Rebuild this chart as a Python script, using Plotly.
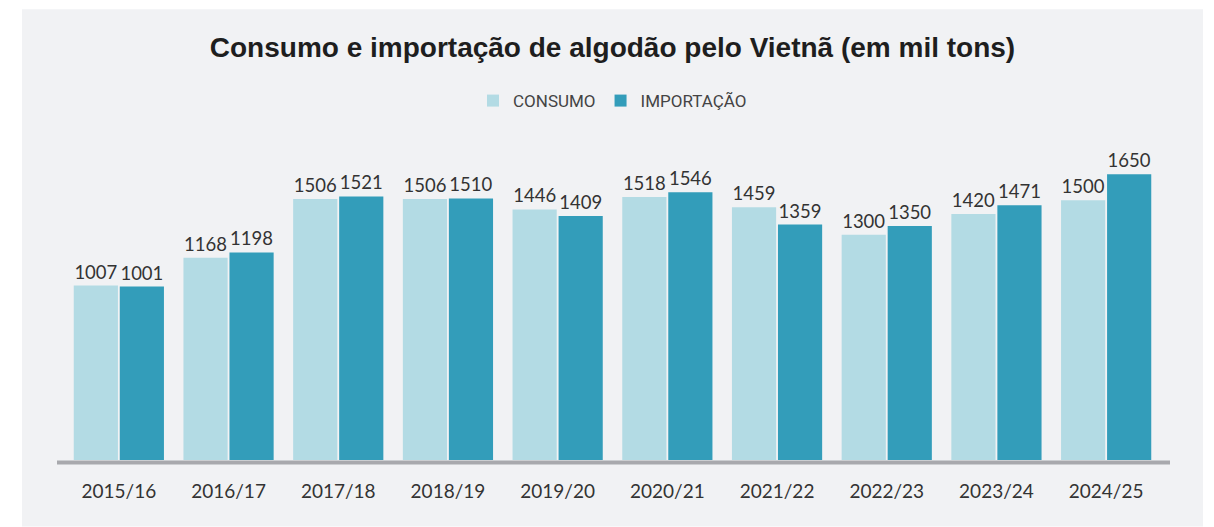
import plotly.graph_objects as go

categories = ["2015/16", "2016/17", "2017/18", "2018/19", "2019/20",
              "2020/21", "2021/22", "2022/23", "2023/24", "2024/25"]
consumo = [1007, 1168, 1506, 1506, 1446, 1518, 1459, 1300, 1420, 1500]
importacao = [1001, 1198, 1521, 1510, 1409, 1546, 1359, 1350, 1471, 1650]
series_names = ["CONSUMO", "IMPORTAÇÃO"]
title_text = "Consumo e importação de algodão pelo Vietnã (em mil tons)"

C_LIGHT = "#b3dbe4"
C_DARK = "#339dba"
PANEL = "#f1f2f4"
TEXT = "#333333"

W, H = 1214, 527
ML, MR, MT, MB = 64, 53, 120, 66.5
plot_w = W - ML - MR
plot_h = H - MT - MB

def px_x(px):
    return (px - ML) / plot_w

def px_y(py):
    return (H - MB - py) / plot_h

label_font = dict(family="Lato, sans-serif", size=18.5, color=TEXT)

fig = go.Figure()
for name, vals, col in [(series_names[0], consumo, C_LIGHT),
                        (series_names[1], importacao, C_DARK)]:
    fig.add_trace(go.Bar(
        x=categories, y=vals, name=name,
        marker=dict(color=col, line=dict(width=0)),
        text=[str(v) for v in vals], textposition="outside",
        textfont=label_font, constraintext="none", cliponaxis=False,
        hoverinfo="x+y+name",
    ))

fig.update_layout(
    width=W, height=H,
    margin=dict(l=ML, r=MR, t=MT, b=MB, pad=0),
    paper_bgcolor="white",
    plot_bgcolor="rgba(0,0,0,0)",
    barmode="group", bargap=0.161, bargroupgap=0.04,
    title=dict(text=f"<b>{title_text}</b>", x=0.5, xref="paper",
               y=1 - 47 / H, yref="container", yanchor="middle", xanchor="center",
               font=dict(family="Liberation Sans, Arial, sans-serif", size=28, color="#1e1e1e")),
    legend=dict(orientation="h", x=0.5, xanchor="center", y=px_y(101), yanchor="middle",
                font=dict(family="Roboto, sans-serif", size=17, color="#444444"),
                bgcolor="rgba(0,0,0,0)", itemwidth=30, traceorder="normal"),
    xaxis=dict(showgrid=False, zeroline=False, showline=False,
               ticks="outside", ticklen=14, tickcolor="rgba(0,0,0,0)",
               tickfont=dict(family="Lato, sans-serif", size=19, color=TEXT)),
    yaxis=dict(range=[0, plot_h / 0.1735], visible=False, showgrid=False, zeroline=False),
    showlegend=True,
    shapes=[
        dict(type="rect", xref="paper", yref="paper",
             x0=px_x(22), x1=px_x(1203), y0=px_y(527), y1=px_y(9),
             fillcolor=PANEL, line=dict(width=0), layer="below"),
        dict(type="line", xref="paper", yref="paper",
             x0=px_x(57), x1=px_x(1170), y0=px_y(463), y1=px_y(463),
             line=dict(color="#a8a9ad", width=4), layer="above"),
    ],
)

fig.write_html("out.html", config={"displayModeBar": False},
               post_script="document.body.style.margin='0';")
